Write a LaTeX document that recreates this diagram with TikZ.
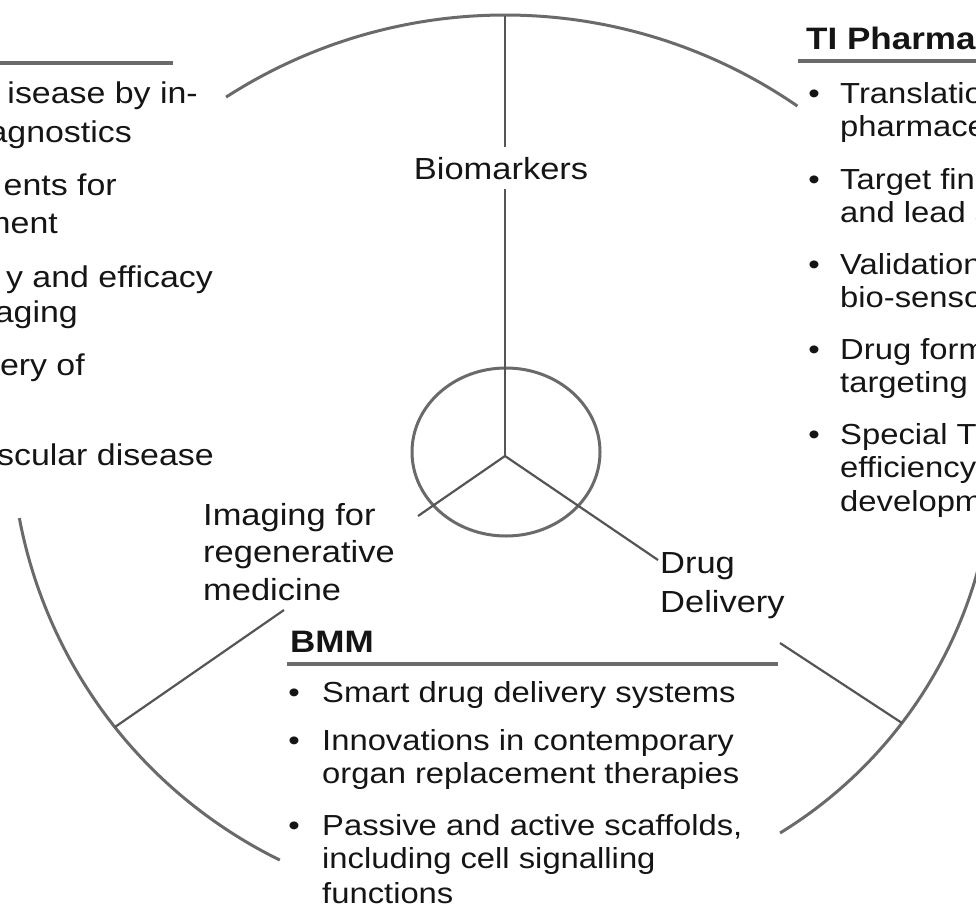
\documentclass[tikz,border=0pt]{standalone}
\usepackage{fontspec}
\setmainfont{Liberation Sans}[FakeStretch=1.13]
\definecolor{arcgray}{HTML}{6A6A6A}
\definecolor{spokegray}{HTML}{555555}
\definecolor{inkblack}{HTML}{151515}
\begin{document}
\begin{tikzpicture}[x=1pt,y=-1pt,
  txt/.style={font=\fontsize{29}{33.5}\selectfont, text=inkblack, inner sep=0pt, anchor=base west},
  big/.style={txt, font=\fontsize{30.5}{36}\selectfont},
  bigr/.style={txt, font=\fontsize{30}{36}\selectfont, anchor=base east},
  hdr/.style={txt, font=\fontsize{31}{36}\selectfont\bfseries},
  bul/.style={txt, anchor=base},
  arcline/.style={draw=arcgray, line width=3pt},
  spoke/.style={draw=spokegray, line width=2.2pt},
  uline/.style={draw=arcgray, line width=3.5pt}]
\useasboundingbox (0,0) rectangle (976,907);
\clip (0,0) rectangle (976,907);

% outer arcs
\draw[arcline] plot[domain=-122.8:-55.4, samples=90, smooth] ({505+515*cos(\x)}, {530+515*sin(\x)});
\draw[arcline] plot[domain=116.1:169.3, samples=90, smooth] ({491+480*cos(\x)}, {429+480*sin(\x)});
\draw[arcline] plot[domain=10:58.5, samples=90, smooth] ({546+448*cos(\x)}, {451+448*sin(\x)});

% hub
\draw[arcline] (506,452) ellipse [x radius=94, y radius=84];
\coordinate (O) at (505,456);
\coordinate (T) at (505,16);
\coordinate (L) at (115,727);
\coordinate (R) at (902,723);
\coordinate (iL) at (418,516);
\coordinate (oL) at (284,610);
\coordinate (dR) at (658,560);
\coordinate (oR) at (780,643);

% spoke labels
\node[big, anchor=base, inner ysep=10pt] (bio) at (501,179) {Biomarkers};
\node[big] (img1) at (203,525) {Imaging for};
\node[big] (img2) at (203,562) {regenerative};
\node[big] (img3) at (203,600) {medicine};
\node[big] (drug1) at (660,573) {Drug};
\node[big] (drug2) at (660,612) {Delivery};

% spokes
\draw[spoke] (O) -- (O |- bio.south);
\draw[spoke] (O |- bio.north) -- (T);
\draw[spoke] (O) -- (iL);
\draw[spoke] (oL) -- (L);
\draw[spoke] (O) -- (dR);
\draw[spoke] (oR) -- (R);

% left block (cut at left edge)
\draw[uline] (-5,63) -- (173,63);
\node[bigr] (lb1) at (198,103) {isease by in-};
\node[bigr] (lb2) at (132,142) {agnostics};
\node[bigr] (lb3) at (117,195) {ents for};
\node[bigr] (lb4) at (58,233) {ment};
\node[bigr] (lb5) at (213,287) {y and efficacy};
\node[bigr] (lb6) at (78,322) {aging};
\node[bigr] (lb7) at (85,375) {ery of};
\node[bigr] (lb8) at (214,465) {scular disease};

% TI Pharma block (cut at right edge)
\node[hdr] (tph) at (806,50) {TI Pharma};
\draw[uline] (798,61) -- (980,61);
\node[bul] (tb1) at (814,103) {•};
\node[bul] (tb2) at (814,189) {•};
\node[bul] (tb3) at (814,274) {•};
\node[bul] (tb4) at (814,359) {•};
\node[bul] (tb5) at (814,444) {•};
\node[txt] (tp1a) at (840,103) {Translatio};
\node[txt] (tp1b) at (840,136.5) {pharmace};
\node[txt] (tp2a) at (840,189) {Target fin};
\node[txt] (tp2b) at (840,222.5) {and lead s};
\node[txt] (tp3a) at (840,274) {Validation};
\node[txt] (tp3b) at (840,307.5) {bio-senso};
\node[txt] (tp4a) at (840,359) {Drug form};
\node[txt] (tp4b) at (840,392.5) {targeting};
\node[txt] (tp5a) at (840,444) {Special T};
\node[txt] (tp5b) at (840,477.5) {efficiency};
\node[txt] (tp5c) at (840,511) {developm};

% BMM block
\node[hdr] (bmm) at (290,652) {BMM};
\draw[uline] (287,664) -- (778,664);
\node[bul] (bb1) at (294,702) {•};
\node[bul] (bb2) at (294,750) {•};
\node[bul] (bb3) at (294,835) {•};
\node[txt] (bm1) at (322,702) {Smart drug delivery systems};
\node[txt] (bm2a) at (322,750) {Innovations in contemporary};
\node[txt] (bm2b) at (322,783) {organ replacement therapies};
\node[txt] (bm3a) at (322,835) {Passive and active scaffolds,};
\node[txt] (bm3b) at (322,868) {including cell signalling};
\node[txt] (bm3c) at (322,903) {functions};
\end{tikzpicture}
\end{document}
